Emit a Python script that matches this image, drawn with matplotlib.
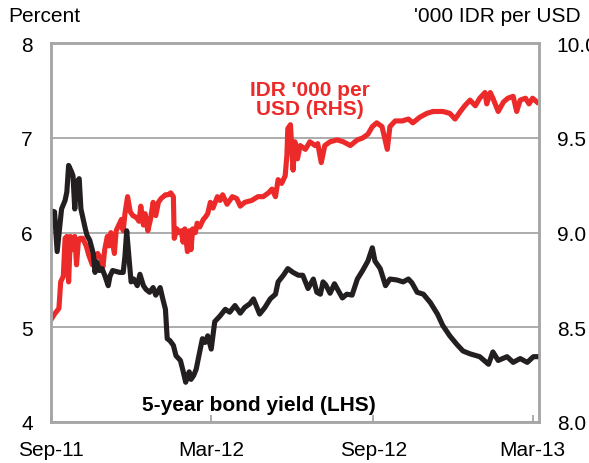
#!/usr/bin/env python3

# Indonesia: 5-year bond yield (LHS) and IDR per USD (RHS)

import pandas as pd
import matplotlib
matplotlib.use("Agg")
import matplotlib.pyplot as plt
import matplotlib.dates as mdates

plt.rcParams["font.family"] = ["Liberation Sans", "DejaVu Sans"]

bond_dates = [
    "2011-09-01", "2011-09-05", "2011-09-08", "2011-09-13", "2011-09-17", "2011-09-19",
    "2011-09-21", "2011-09-24", "2011-09-26", "2011-09-28", "2011-09-30", "2011-10-03",
    "2011-10-05", "2011-10-10", "2011-10-12", "2011-10-15", "2011-10-19", "2011-10-21",
    "2011-10-23", "2011-10-26", "2011-10-29", "2011-11-01", "2011-11-05", "2011-11-07",
    "2011-11-10", "2011-11-18", "2011-11-22", "2011-11-24", "2011-11-26", "2011-11-29",
    "2011-12-01", "2011-12-04", "2011-12-08", "2011-12-11", "2011-12-15", "2011-12-18",
    "2011-12-22", "2011-12-26", "2011-12-29", "2012-01-03", "2012-01-06", "2012-01-09",
    "2012-01-11", "2012-01-14", "2012-01-18", "2012-01-21", "2012-01-26", "2012-01-29",
    "2012-02-01", "2012-02-05", "2012-02-07", "2012-02-10", "2012-02-13", "2012-02-16",
    "2012-02-20", "2012-02-23", "2012-02-26", "2012-03-01", "2012-03-05", "2012-03-11",
    "2012-03-17", "2012-03-22", "2012-03-28", "2012-04-03", "2012-04-08", "2012-04-14",
    "2012-04-18", "2012-04-25", "2012-05-01", "2012-05-07", "2012-05-13", "2012-05-16",
    "2012-05-22", "2012-05-27", "2012-06-02", "2012-06-08", "2012-06-13", "2012-06-19",
    "2012-06-25", "2012-06-29", "2012-07-03", "2012-07-06", "2012-07-09", "2012-07-14",
    "2012-07-19", "2012-07-22", "2012-07-28", "2012-08-02", "2012-08-08", "2012-08-14",
    "2012-08-20", "2012-08-26", "2012-08-31", "2012-09-03", "2012-09-09", "2012-09-15",
    "2012-09-20", "2012-09-28", "2012-10-05", "2012-10-11", "2012-10-15", "2012-10-21",
    "2012-10-28", "2012-11-05", "2012-11-13", "2012-11-19", "2012-11-27", "2012-12-05",
    "2012-12-12", "2012-12-20", "2012-12-31", "2013-01-10", "2013-01-15", "2013-01-21",
    "2013-01-31", "2013-02-07", "2013-02-15", "2013-02-23", "2013-03-02", "2013-03-07",
]
bond_yield = [
    6.23, 6.22, 5.80, 6.25, 6.34, 6.43,
    6.71, 6.65, 6.60, 6.25, 6.53, 6.57,
    6.25, 6.04, 5.97, 5.92, 5.78, 5.58,
    5.69, 5.60, 5.62, 5.55, 5.44, 5.54,
    5.60, 5.58, 5.58, 5.75, 6.02, 5.69,
    5.48, 5.51, 5.44, 5.56, 5.44, 5.40,
    5.37, 5.42, 5.34, 5.42, 5.30, 5.19,
    4.88, 4.86, 4.81, 4.70, 4.65, 4.54,
    4.42, 4.53, 4.45, 4.49, 4.56, 4.70,
    4.88, 4.84, 4.91, 4.77, 5.06, 5.12,
    5.19, 5.16, 5.23, 5.15, 5.21, 5.25,
    5.30, 5.14, 5.21, 5.30, 5.35, 5.48,
    5.55, 5.62, 5.58, 5.55, 5.55, 5.41,
    5.51, 5.37, 5.35, 5.48, 5.45, 5.36,
    5.46, 5.41, 5.31, 5.35, 5.34, 5.51,
    5.60, 5.70, 5.84, 5.70, 5.62, 5.44,
    5.51, 5.50, 5.48, 5.51, 5.47, 5.37,
    5.35, 5.26, 5.14, 5.02, 4.91, 4.82,
    4.75, 4.72, 4.69, 4.61, 4.74, 4.65,
    4.69, 4.63, 4.67, 4.63, 4.69, 4.69,
]

fx_dates = [
    "2011-09-01", "2011-09-05", "2011-09-10", "2011-09-12", "2011-09-15", "2011-09-17",
    "2011-09-19", "2011-09-21", "2011-09-23", "2011-09-25", "2011-09-28", "2011-09-30",
    "2011-10-02", "2011-10-04", "2011-10-07", "2011-10-11", "2011-10-14", "2011-10-18",
    "2011-10-21", "2011-10-24", "2011-10-28", "2011-10-30", "2011-11-01", "2011-11-04",
    "2011-11-06", "2011-11-08", "2011-11-12", "2011-11-14", "2011-11-17", "2011-11-20",
    "2011-11-22", "2011-11-24", "2011-11-27", "2011-11-30", "2011-12-03", "2011-12-07",
    "2011-12-10", "2011-12-12", "2011-12-15", "2011-12-17", "2011-12-20", "2011-12-23",
    "2011-12-26", "2011-12-29", "2012-01-01", "2012-01-04", "2012-01-09", "2012-01-12",
    "2012-01-15", "2012-01-18", "2012-01-19", "2012-01-22", "2012-01-24", "2012-01-27",
    "2012-01-29", "2012-01-31", "2012-02-03", "2012-02-05", "2012-02-07", "2012-02-09",
    "2012-02-12", "2012-02-14", "2012-02-17", "2012-02-21", "2012-02-23", "2012-02-26",
    "2012-02-29", "2012-03-03", "2012-03-08", "2012-03-11", "2012-03-14", "2012-03-19",
    "2012-03-25", "2012-03-30", "2012-04-03", "2012-04-08", "2012-04-16", "2012-04-23",
    "2012-04-29", "2012-05-05", "2012-05-09", "2012-05-13", "2012-05-16", "2012-05-20",
    "2012-05-24", "2012-05-26", "2012-05-27", "2012-05-30", "2012-06-02", "2012-06-04",
    "2012-06-07", "2012-06-10", "2012-06-16", "2012-06-21", "2012-06-27", "2012-06-30",
    "2012-07-04", "2012-07-08", "2012-07-14", "2012-07-22", "2012-07-29", "2012-08-06",
    "2012-08-14", "2012-08-20", "2012-08-26", "2012-08-31", "2012-09-05", "2012-09-11",
    "2012-09-17", "2012-09-20", "2012-09-26", "2012-10-04", "2012-10-11", "2012-10-16",
    "2012-10-24", "2012-11-01", "2012-11-08", "2012-11-19", "2012-11-27", "2012-12-03",
    "2012-12-09", "2012-12-14", "2012-12-20", "2012-12-26", "2012-12-31", "2013-01-06",
    "2013-01-08", "2013-01-12", "2013-01-15", "2013-01-21", "2013-01-27", "2013-02-01",
    "2013-02-07", "2013-02-11", "2013-02-15", "2013-02-21", "2013-02-25", "2013-03-01",
    "2013-03-06",
]
idr_per_usd = [
    8.54, 8.57, 8.60, 8.74, 8.77, 8.97,
    8.98, 8.74, 8.98, 8.91, 8.98, 8.83,
    8.95, 8.97, 8.97, 8.93, 8.88, 8.83,
    8.86, 8.89, 8.86, 8.82, 8.91, 8.98,
    8.93, 9.00, 8.89, 9.01, 9.04, 9.07,
    9.01, 9.10, 9.19, 9.11, 9.09, 9.08,
    9.06, 9.14, 9.04, 9.10, 9.01, 9.07,
    9.16, 9.09, 9.16, 9.18, 9.20, 9.20,
    9.21, 9.19, 8.97, 9.02, 9.00, 9.01,
    8.95, 9.02, 8.90, 9.01, 8.91, 9.02,
    9.00, 9.05, 9.03, 9.07, 9.08, 9.10,
    9.16, 9.13, 9.19, 9.17, 9.20, 9.15,
    9.19, 9.18, 9.14, 9.16, 9.17, 9.19,
    9.19, 9.21, 9.23, 9.19, 9.28, 9.26,
    9.30, 9.41, 9.55, 9.57, 9.33, 9.48,
    9.39, 9.46, 9.44, 9.48, 9.46, 9.47,
    9.37, 9.46, 9.48, 9.49, 9.48, 9.46,
    9.49, 9.50, 9.52, 9.56, 9.58, 9.56,
    9.44, 9.56, 9.59, 9.59, 9.60, 9.58,
    9.61, 9.63, 9.64, 9.64, 9.63, 9.60,
    9.64, 9.67, 9.70, 9.67, 9.71, 9.74,
    9.68, 9.74, 9.71, 9.64, 9.69, 9.71,
    9.72, 9.64, 9.70, 9.71, 9.68, 9.71,
    9.69,
]

x_ticks = ["2011-09-01", "2012-03-01", "2012-09-01", "2013-03-01"]

bond_dates = pd.to_datetime(bond_dates)
fx_dates = pd.to_datetime(fx_dates)

grey = "#a6a6a6"
red = "#ed2a2a"
black = "#231f20"

fig = plt.figure(figsize=(5.89, 4.64), dpi=100)
ax = fig.add_axes([51 / 589, 1 - 423 / 464, 487.7 / 589, 378.7 / 464])
ax2 = ax.twinx()

# fx on the twin axis, drawn underneath the bond line
ax.set_zorder(ax2.get_zorder() + 1)
ax.patch.set_visible(False)

ax2.plot(fx_dates, idr_per_usd, color=red, lw=3.7, solid_joinstyle="round")
ax.plot(bond_dates, bond_yield, color=black, lw=3.7, solid_joinstyle="round")

ax.set_xlim(pd.Timestamp("2011-09-01"), pd.Timestamp("2013-03-08"))
ax.set_ylim(4, 8)
ax2.set_ylim(8, 10)

ax.set_yticks([4, 5, 6, 7, 8])
ax2.set_yticks([8.0, 8.5, 9.0, 9.5, 10.0])
ax2.yaxis.set_major_formatter(matplotlib.ticker.FormatStrFormatter("%.1f"))
ax2.grid(axis="y", color=grey, lw=1.3)
ax2.set_axisbelow(True)

ax.set_xticks(pd.to_datetime(x_ticks))
ax.xaxis.set_major_formatter(mdates.DateFormatter("%b-%y"))

ax.tick_params(axis="x", direction="in", length=5, width=1.3, color=grey,
               labelsize=15, pad=13)
ax.tick_params(axis="y", length=0, labelsize=15, pad=13)
ax2.tick_params(axis="y", length=0, labelsize=15, pad=13)

for a in (ax, ax2):
    for s in a.spines.values():
        s.set_color(grey)
        s.set_linewidth(1.8)

fig.text(8 / 589, 1 - 16 / 464, "Percent", fontsize=15, va="center", ha="left")
fig.text(581 / 589, 1 - 16 / 464, "'000 IDR per USD", fontsize=15,
         va="center", ha="right")

ax.text(0.531, 0.853, "IDR '000 per\nUSD (RHS)", transform=ax.transAxes,
        color=red, fontsize=15, fontweight="bold", ha="center", va="center",
        linespacing=1.0)
ax.text(0.4255, 0.045, "5-year bond yield (LHS)", transform=ax.transAxes,
        color="black", fontsize=15, fontweight="bold", ha="center", va="center")

fig.savefig("out.png", dpi=100)
